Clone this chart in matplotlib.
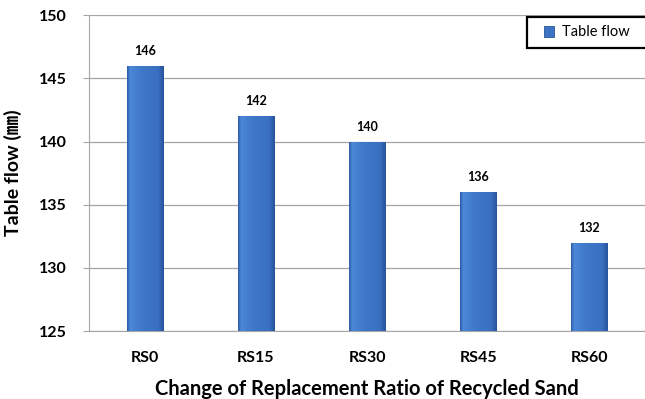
import matplotlib
matplotlib.use("Agg")
import matplotlib.pyplot as plt
import numpy as np
from matplotlib.colors import LinearSegmentedColormap
from matplotlib.patches import Rectangle

plt.rcParams['font.family'] = ['Lato', 'Noto Sans CJK KR', 'DejaVu Sans']

categories = ["RS0", "RS15", "RS30", "RS45", "RS60"]
values = [146, 142, 140, 136, 132]
yticks = [125, 130, 135, 140, 145, 150]
series_name = "Table flow"

fig = plt.figure(figsize=(6.45, 3.99), dpi=100)
ax = fig.add_axes([0.138, 0.170, 0.862, 0.792])

x = np.arange(len(categories))
bw = 0.325
bars = ax.bar(x, np.array(values) - 125, bottom=125, width=bw, color="#3D72C4",
              edgecolor="#2A5599", linewidth=0.6, zorder=3, label=series_name)

# bevel-like horizontal shading on bars
grad = np.linspace(0, 1, 64).reshape(1, -1)
cmap = LinearSegmentedColormap.from_list(
    "barg", [(0.0, "#2E5EA8"), (0.08, "#4C88D8"), (0.35, "#407AC9"),
             (0.85, "#3A6FC0"), (1.0, "#28549B")])
for b in bars:
    bx, by = b.get_x(), b.get_y()
    w, h = b.get_width(), b.get_height()
    im = ax.imshow(grad, extent=[bx, bx + w, by, by + h], aspect='auto', cmap=cmap, zorder=3.5)
    im.set_clip_path(b)

for xi, v in zip(x, values):
    ax.text(xi, v + 0.7, str(v), ha='center', va='bottom', fontsize=9, fontweight='bold', zorder=5)

ax.set_xlim(-0.5, 4.5)
ax.set_ylim(125, 150)
ax.set_yticks(yticks)
ax.set_xticks(x)
ax.set_xticklabels(categories)
ax.grid(axis='y', color='#a6a6a6', linewidth=0.9, zorder=0)
for s in ['top', 'right']:
    ax.spines[s].set_visible(False)
ax.spines['left'].set_color('#a6a6a6')
ax.spines['bottom'].set_color('#a6a6a6')
ax.tick_params(axis='y', length=4, color='#a6a6a6', labelsize=11.5, pad=12)
ax.tick_params(axis='x', length=0, labelsize=11.5, pad=14)
for lab in ax.get_xticklabels() + ax.get_yticklabels():
    lab.set_fontweight('bold')

ax.set_ylabel("Table flow (㎜)", fontsize=14, fontweight='bold', labelpad=12)
ax.set_xlabel("Change of Replacement Ratio of Recycled Sand", fontsize=14.5, fontweight='bold', labelpad=10)

# legend frame (extends past the right edge, as in the reference)
W, H = 645, 399
frame = Rectangle((527 / W, 1 - 48 / H), 140 / W, 31 / H, transform=fig.transFigure,
                  facecolor='white', edgecolor='black', linewidth=1.6, zorder=10)
fig.patches.append(frame)
leg = fig.legend(handles=[bars], labels=[series_name], loc='center left',
                 bbox_to_anchor=(544 / W, 1 - 32.5 / H),
                 bbox_transform=fig.transFigure,
                 fontsize=10.5, frameon=False,
                 handlelength=0.7, handleheight=0.7, borderpad=0.0, handletextpad=0.55,
                 borderaxespad=0.0)
leg.set_zorder(11)

fig.savefig("out.png", dpi=100)
